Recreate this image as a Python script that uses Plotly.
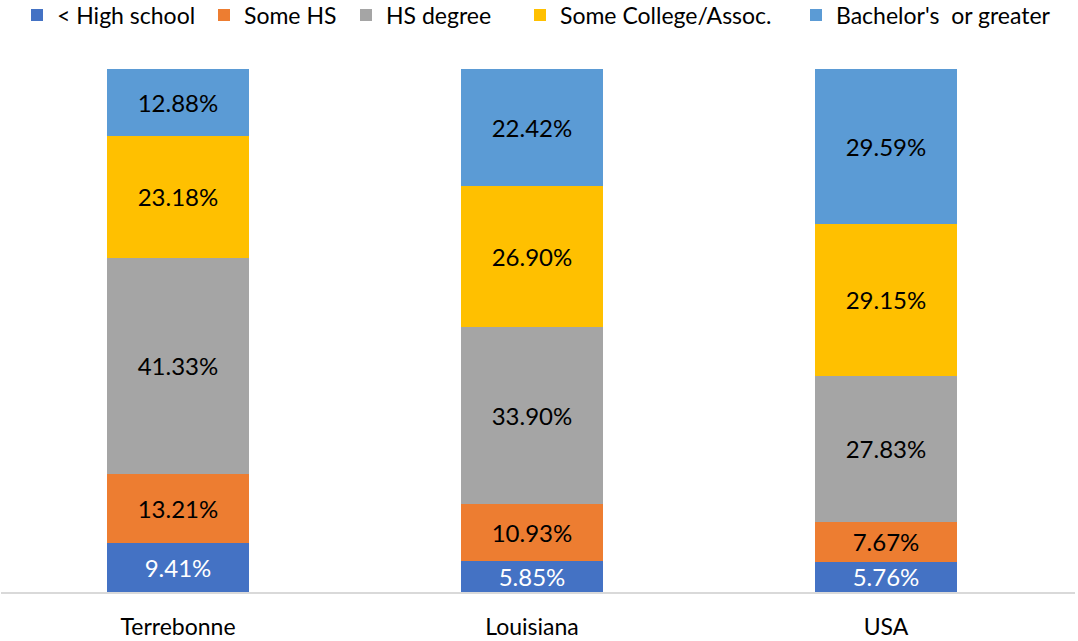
import plotly.graph_objects as go

places = ["Terrebonne", "Louisiana", "USA"]
series_names = ["< High school", "Some HS", "HS degree", "Some College/Assoc.", "Bachelor's  or greater"]
less_hs = [9.41, 5.85, 5.76]
some_hs = [13.21, 10.93, 7.67]
hs_degree = [41.33, 33.90, 27.83]
some_college = [23.18, 26.90, 29.15]
bachelors = [12.88, 22.42, 29.59]

colors = ["#4472C4", "#ED7D31", "#A5A5A5", "#FFC000", "#5B9BD5"]
text_colors = ["white", "black", "black", "black", "black"]
# left edge (px) of each legend entry, one legend per series
legend_x = [17, 204, 346, 520, 796]

fig = go.Figure()
series = [less_hs, some_hs, hs_degree, some_college, bachelors]
legend_ids = ["legend", "legend2", "legend3", "legend4", "legend5"]
for name, vals, col, tcol, lid in zip(series_names, series, colors, text_colors, legend_ids):
    fig.add_trace(go.Bar(
        x=places, y=vals, name=name, legend=lid,
        marker=dict(color=col, line=dict(width=0)),
        texttemplate="%{y:.2f}%", textposition="inside",
        insidetextanchor="middle",
        textfont=dict(color=tcol, size=24, family="Lato"),
    ))

legends = {}
for lid, lx in zip(legend_ids, legend_x):
    legends[lid] = dict(orientation="h", x=lx / 1078, xref="container", xanchor="left",
                        y=1.103, yref="paper", yanchor="middle",
                        font=dict(size=23), itemwidth=30, bgcolor="rgba(0,0,0,0)")

fig.update_layout(
    barmode="stack", bargap=0.6,
    width=1078, height=641,
    margin=dict(l=1, r=3, t=69, b=49, autoexpand=False),
    paper_bgcolor="white", plot_bgcolor="white",
    font=dict(family="Lato", size=23, color="black"),
    uniformtext=dict(minsize=24, mode="show"),
    showlegend=True,
    xaxis=dict(range=[-0.5, 2.534], showline=True, linecolor="#D9D9D9", linewidth=2,
               ticks="outside", ticklen=13, tickcolor="rgba(0,0,0,0)",
               tickfont=dict(size=23), showgrid=False, automargin=False),
    yaxis=dict(range=[0, 100], visible=False),
    **legends,
)

fig.write_html("out.html", config={"displayModeBar": False},
               post_script="document.body.style.margin='0';")
